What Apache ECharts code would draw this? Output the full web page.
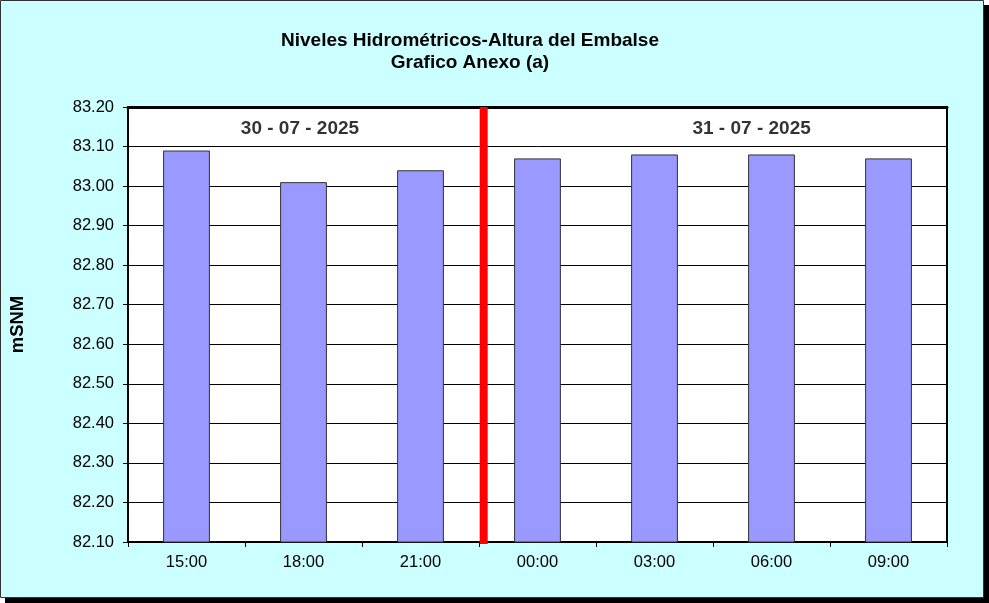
<!DOCTYPE html>
<html><head><meta charset="utf-8">
<script src="https://cdn.jsdelivr.net/npm/echarts@6/dist/echarts.min.js"></script>
<style>html,body{margin:0;padding:0;background:#fff}#c{width:989px;height:603px}</style>
</head><body><div id="c"></div>
<script>
const categories = ['15:00','18:00','21:00','00:00','03:00','06:00','09:00'];
const levels = [83.09, 83.01, 83.04, 83.07, 83.08, 83.08, 83.07];
const dayLabels = ['30 - 07 - 2025', '31 - 07 - 2025'];
const dayLabelPos = [1.47, 5.33];   // position in category units
const dayChangePos = [3.04];          // red separator, category units
const yMin = 82.1, yMax = 83.2, yStep = 0.1;

const chart = echarts.init(document.getElementById('c'), null, {renderer:'canvas'});
const F = 'Liberation Sans, Arial, sans-serif';
const option = {
  animation:false,
  backgroundColor:'#ffffff',
  graphic:[
    {type:'rect', shape:{x:5,y:5,width:984,height:598}, style:{fill:'#000'}, z:-10},
    {type:'rect', shape:{x:0.5,y:0.5,width:983,height:597}, style:{fill:'#CCFFFF', stroke:'#333', lineWidth:1}, z:-9},
    {type:'rect', shape:{x:128,y:107,width:819,height:435}, style:{fill:'#fff'}, z:-8}
  ],
  title:{
    text:'Niveles Hidrométricos-Altura del Embalse\nGrafico Anexo (a)',
    left:465, top:25, textAlign:'center',
    textStyle:{fontFamily:F, fontSize:19, fontWeight:'bold', color:'#000', lineHeight:22}
  },
  grid:{left:128, top:107, width:819, height:435, show:false},
  xAxis:[{
    type:'category', data:categories, position:'bottom',
    axisLine:{show:true, lineStyle:{color:'#000', width:2}},
    axisTick:{show:true, alignWithLabel:false, length:5, lineStyle:{color:'#000'}},
    axisLabel:{fontFamily:F, fontSize:16.5, color:'#000', margin:12},
    splitLine:{show:false}
  },{
    type:'value', min:0, max:7, show:false
  },{
    type:'category', data:categories, position:'top',
    axisLine:{show:true, lineStyle:{color:'#000', width:3}},
    axisTick:{show:false}, axisLabel:{show:false}
  }],
  yAxis:[{
    type:'value', min:yMin, max:yMax, interval:yStep,
    name:'mSNM', nameLocation:'middle', nameGap:101, nameRotate:90,
    nameTextStyle:{fontFamily:F, fontSize:18.5, fontWeight:'bold', color:'#000'},
    axisLine:{show:true, lineStyle:{color:'#000', width:2}},
    axisTick:{show:true, length:5, lineStyle:{color:'#000'}},
    axisLabel:{fontFamily:F, fontSize:16.5, color:'#000', margin:14, formatter:v=>v.toFixed(2)},
    splitLine:{show:true, lineStyle:{color:'#000', width:1}}
  },{
    type:'value', min:yMin, max:yMax, position:'right',
    axisLine:{show:true, lineStyle:{color:'#000', width:2}},
    axisTick:{show:false}, axisLabel:{show:false}, splitLine:{show:false}
  }],
  series:[{
    type:'bar', data:levels, barWidth:'40%',
    itemStyle:{color:'#9999FF', borderColor:'#333', borderWidth:1},
    z:3
  },{
    type:'line', xAxisIndex:1, yAxisIndex:0,
    data:[[dayChangePos[0], yMin-0.005],[dayChangePos[0], yMax]],
    symbol:'none', lineStyle:{color:'#FF0000', width:8}, z:5, clip:false
  },{
    type:'scatter', xAxisIndex:1, yAxisIndex:0,
    data:dayLabelPos.map((x,i)=>({value:[x,83.145], name:dayLabels[i]})),
    symbolSize:0,
    label:{show:true, position:'inside', formatter:p=>p.name,
      fontFamily:F, fontSize:19, fontWeight:'bold', color:'#000'},
    z:6
  }]
};
chart.setOption(option);
</script></body></html>
